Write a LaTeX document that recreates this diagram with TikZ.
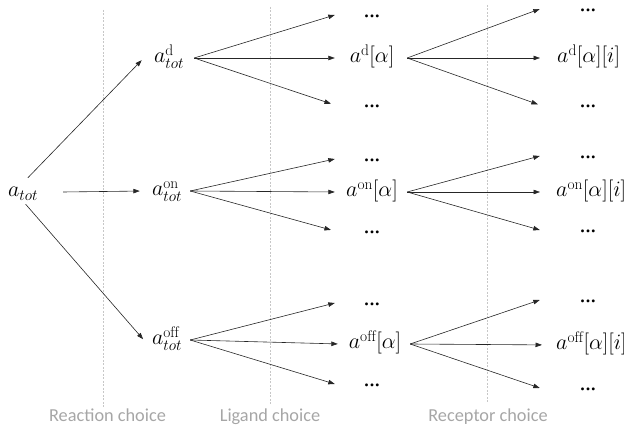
\RequirePackage{fix-cm}
\documentclass[tikz,border=0pt]{standalone}
\usepackage{fontspec}
\newfontfamily\labelfont{Carlito}
\newfontfamily\mf{DejaVu Serif}
\usetikzlibrary{arrows.meta}
\newcommand\mydots{{\mf .\kern-1.6pt.\kern-1.6pt.}}
\begin{document}
\begin{tikzpicture}[x=1pt,y=-1pt,
  every node/.style={inner sep=0pt, font=\fontsize{22}{26}\selectfont, anchor=base,
    text height=14pt, text depth=4pt},
  arr/.style={draw=black!85, line width=0.6pt, -{Triangle[length=6.5pt,width=4.5pt]}},
  guide/.style={draw=black!22, line width=0.6pt, dash pattern=on 2pt off 1.5pt},
  lab/.style={font=\labelfont\fontsize{18.3}{22}\selectfont, text=black!35},
  colA/.style={minimum width=70pt},
  dotA/.style={minimum width=74pt, text height=10pt},
  dotB/.style={minimum width=96pt, text height=10pt},
  colB/.style={anchor=base west}
]
\useasboundingbox (0,0) rectangle (624,427);
\clip (0,0) rectangle (624,427);

% guide lines
\draw[guide] (103,10) -- (103,407);
\draw[guide] (270,7) -- (270,405);
\draw[guide] (487,5) -- (487,403);

% labels
\node[lab] (l1) at (107.5,422) {Reaction choice};
\node[lab] (l2) at (270,422) {Ligand choice};
\node[lab] (l3) at (488,422) {Receptor choice};

% column 0 and 1
\node[minimum width=80pt] (atot) at (23,197) {$a_{tot}$};
\node[minimum width=50pt] (d) at (169,63) {$a^{\mathrm{d}}_{tot}$};
\node[minimum width=46pt] (on) at (167,196) {$a^{\mathrm{on}}_{tot}$};
\node[minimum width=46pt] (off) at (167,345) {$a^{\mathrm{off}}_{tot}$};

% column 2
\node[dotA] (d1) at (372,18) {\mydots};
\node[colA] (ad) at (372,63) {$a^{\mathrm{d}}[\alpha]$};
\node[dotA] (d3) at (372,108) {\mydots};
\node[dotA] (o1) at (372,162) {\mydots};
\node[colA] (aon) at (372,197) {$a^{\mathrm{on}}[\alpha]$};
\node[dotA] (o3) at (372,234) {\mydots};
\node[dotA] (f1) at (372,306) {\mydots};
\node[colA] (aoff) at (375,349) {$a^{\mathrm{off}}[\alpha]$};
\node[dotA] (f3) at (372,387) {\mydots};

% column 3
\node[dotB] (dd1) at (588,12) {\mydots};
\node[colB] (add) at (557,63) {$a^{\mathrm{d}}[\alpha][i]$};
\node[dotB] (dd3) at (588,108) {\mydots};
\node[dotB] (od1) at (588,159) {\mydots};
\node[colB] (aond) at (556,197) {$a^{\mathrm{on}}[\alpha][i]$};
\node[dotB] (od3) at (588,233) {\mydots};
\node[dotB] (fd1) at (588,303) {\mydots};
\node[colB] (aoffd) at (556,350) {$a^{\mathrm{off}}[\alpha][i]$};
\node[dotB] (fd3) at (588,391) {\mydots};

% arrows from a_tot
\draw[arr, shorten <=7pt, shorten >=3pt] (atot.north) -- (d.west);
\draw[arr, shorten >=4pt] (atot.east) -- (on.west);
\draw[arr, shorten <=4pt, shorten >=1pt] (atot.south) -- (off.west);

% column 1 -> column 2
\draw[arr] (d.east) -- (d1.west);
\draw[arr, shorten >=2pt] (d.east) -- (ad.west);
\draw[arr, shorten >=4pt] (d.east) -- (d3.west);
\draw[arr] (on.east) -- (o1.west);
\draw[arr, shorten >=2pt] (on.east) -- (aon.west);
\draw[arr, shorten >=4pt] (on.east) -- (o3.west);
\draw[arr] (off.east) -- (f1.west);
\draw[arr, shorten >=2pt] (off.east) -- (aoff.west);
\draw[arr] (off.east) -- (f3.west);

% column 2 -> column 3
\draw[arr] (ad.east) -- (dd1.west);
\draw[arr, shorten >=17pt] (ad.east) -- (add.west);
\draw[arr, shorten >=2pt] (ad.east) -- (dd3.west);
\draw[arr] (aon.east) -- (od1.west);
\draw[arr, shorten >=16pt] (aon.east) -- (aond.west);
\draw[arr] (aon.east) -- (od3.west);
\draw[arr] (aoff.east) -- (fd1.west);
\draw[arr, shorten >=14pt] (aoff.east) -- (aoffd.west);
\draw[arr] (aoff.east) -- (fd3.west);
\end{tikzpicture}
\end{document}
